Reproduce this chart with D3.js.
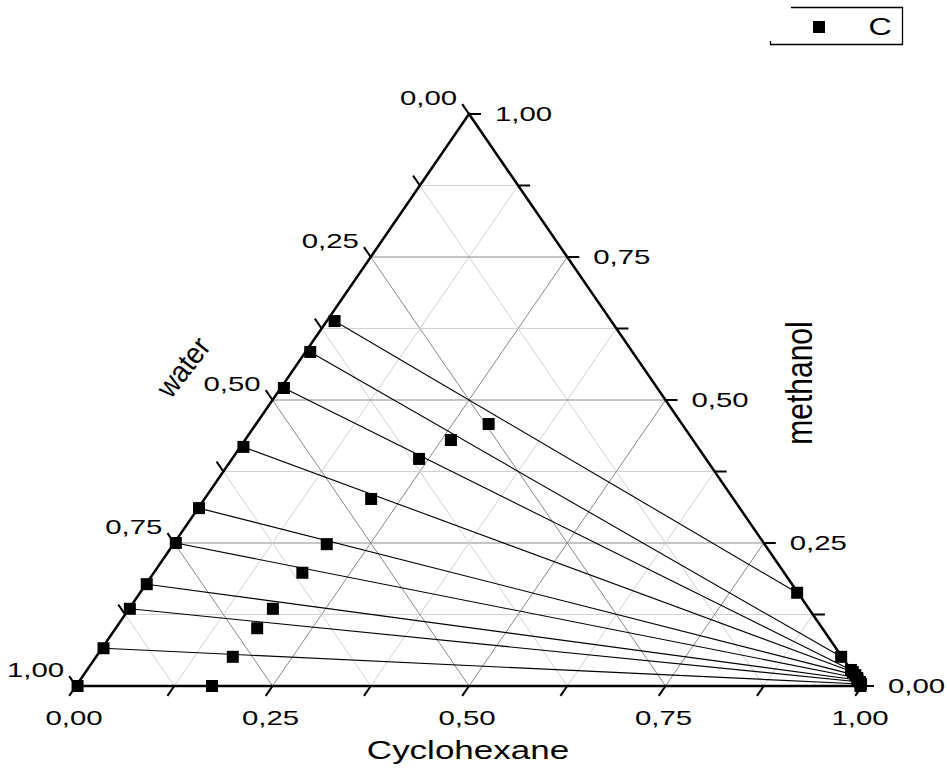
<!DOCTYPE html>
<html>
<head>
<meta charset="utf-8">
<script src="https://cdn.jsdelivr.net/npm/d3@7"></script>
<style>
  body { margin: 0; background: #fff; }
  text { font-family: "Liberation Sans", Arial, sans-serif; fill: #000; }
</style>
</head>
<body>
<div id="chart"></div>
<script>
// ternary data: c = cyclohexane fraction, m = methanol fraction (water = 1 - c - m)
var tieLeftC  = [0.010, 0.006, 0.004, 0.004, 0.001, 0.002, 0.001, 0.001, 0.002, 0.002];
var tieLeftM  = [0.638, 0.584, 0.521, 0.418, 0.311, 0.250, 0.178, 0.135, 0.066, 0.000];
var tieRightC = [0.836, 0.948, 0.972, 0.976, 0.982, 0.987, 0.989, 0.994, 0.997, 0.998];
var tieRightM = [0.163, 0.051, 0.028, 0.0245, 0.019, 0.014, 0.0105, 0.007, 0.0035, 0.000];
var feedC = [0.296, 0.262, 0.238, 0.212, 0.195, 0.189, 0.183, 0.180, 0.174, 0.173];
var feedM = [0.458, 0.430, 0.397, 0.327, 0.248, 0.198, 0.135, 0.101, 0.051, 0.000];
var gridSteps = [0.125, 0.25, 0.375, 0.5, 0.625, 0.75, 0.875];
var tickSteps = [0, 0.125, 0.25, 0.375, 0.5, 0.625, 0.75, 0.875, 1];
var tickLabels = ['0,00', '0,25', '0,50', '0,75', '1,00'];
var labelSteps = [0, 0.25, 0.5, 0.75, 1];
var seriesName = 'C';

var W = 947, H = 771;
var svg = d3.select('#chart').append('svg').attr('width', W).attr('height', H);

var px = d3.scaleLinear().domain([0, 1]).range([76, 862]);
var py = d3.scaleLinear().domain([0, 1]).range([686, 114]);
function pt(c, m) { return [px(c + m / 2), py(m)]; }

var sx = 1.4; // text in the picture is stretched sideways
function label(x, y, str, size, anchor, rot) {
	var t = svg.append('text')
		.attr('transform', 'translate(' + x + ',' + y + ')' + (rot ? ' rotate(' + rot + ')' : '') + ' scale(' + sx + ',1)')
		.attr('font-size', size)
		.attr('text-anchor', anchor)
		.attr('dominant-baseline', 'central')
		.text(str);
	return t;
}

// grid
var line = d3.line();
var grid = svg.append('g');
gridSteps.forEach(function(t) {
	var col = (t % 0.25 == 0) ? '#8a8a8a' : '#d2d2d2';
	var segs = [
		[pt(0, t), pt(1 - t, t)],
		[pt(t, 0), pt(t, 1 - t)],
		[pt(1 - t, 0), pt(0, 1 - t)]
	];
	segs.forEach(function(s) {
		grid.append('path').attr('d', line(s)).attr('stroke', col).attr('stroke-width', 1).attr('fill', 'none');
	});
});

// tie lines
for (var i = 0; i < tieLeftC.length; i++) {
	svg.append('path')
		.attr('d', line([pt(tieLeftC[i], tieLeftM[i]), pt(tieRightC[i], tieRightM[i])]))
		.attr('stroke', '#000').attr('stroke-width', 1.1).attr('fill', 'none');
}

// triangle outline
svg.append('path')
	.attr('d', line([pt(0, 0), pt(1, 0), pt(0, 1)]) + 'Z')
	.attr('stroke', '#000').attr('stroke-width', 2.5).attr('fill', 'none')
	.attr('stroke-linejoin', 'miter');

// ticks
var ex = 393 / Math.hypot(393, 572), ey = 572 / Math.hypot(393, 572), tl = 12;
tickSteps.forEach(function(t) {
	var b = pt(t, 0);
	svg.append('path').attr('d', line([b, [b[0] - tl * ex, b[1] + tl * ey]])).attr('stroke', '#000').attr('stroke-width', 2);
	var r = pt(1 - t, t);
	svg.append('path').attr('d', line([r, [r[0] + tl, r[1]]])).attr('stroke', '#000').attr('stroke-width', 2);
	var l = pt(0, 1 - t);
	svg.append('path').attr('d', line([l, [l[0] - tl * ex, l[1] - tl * ey]])).attr('stroke', '#000').attr('stroke-width', 2);
});

// tick labels
labelSteps.forEach(function(t, k) {
	var b = pt(t, 0);
	label(b[0] - 2, 718, tickLabels[k], 21, 'middle');
	var r = pt(1 - t, t);
	label(r[0] + 26, r[1], tickLabels[k], 21, 'start');
	var l = pt(0, 1 - t);
	label(l[0] - tl * ex - 5, l[1] - tl * ey - 7, tickLabels[k], 21, 'end');
});

// axis titles
label(468, 750, 'Cyclohexane', 25, 'middle');
svg.append('text')
	.attr('transform', 'translate(799,383) rotate(-90) scale(1,1.25)')
	.attr('font-size', 30).attr('text-anchor', 'middle').attr('dominant-baseline', 'central')
	.text('methanol');
svg.append('text')
	.attr('transform', 'translate(183,367) rotate(-52) scale(1.05,1.15)')
	.attr('font-size', 26).attr('text-anchor', 'middle').attr('dominant-baseline', 'central')
	.text('water');

// points
var sq = 12;
function squares(cs, ms) {
	svg.append('g').selectAll('rect').data(cs).enter().append('rect')
		.attr('x', function(d, i) { return pt(d, ms[i])[0] - sq / 2; })
		.attr('y', function(d, i) { return pt(d, ms[i])[1] - sq / 2; })
		.attr('width', sq).attr('height', sq).attr('fill', '#000');
}
squares(tieLeftC, tieLeftM);
squares(feedC, feedM);
squares(tieRightC, tieRightM);

// legend
var lg = svg.append('g');
lg.append('path').attr('d', 'M791,7.5H902.5V44.5H770.5V41').attr('stroke', '#000').attr('stroke-width', 1.3).attr('fill', 'none');
lg.append('rect').attr('x', 813).attr('y', 21).attr('width', sq).attr('height', sq).attr('fill', '#000');
label(880, 27, seriesName, 23, 'middle');
</script>
</body>
</html>
